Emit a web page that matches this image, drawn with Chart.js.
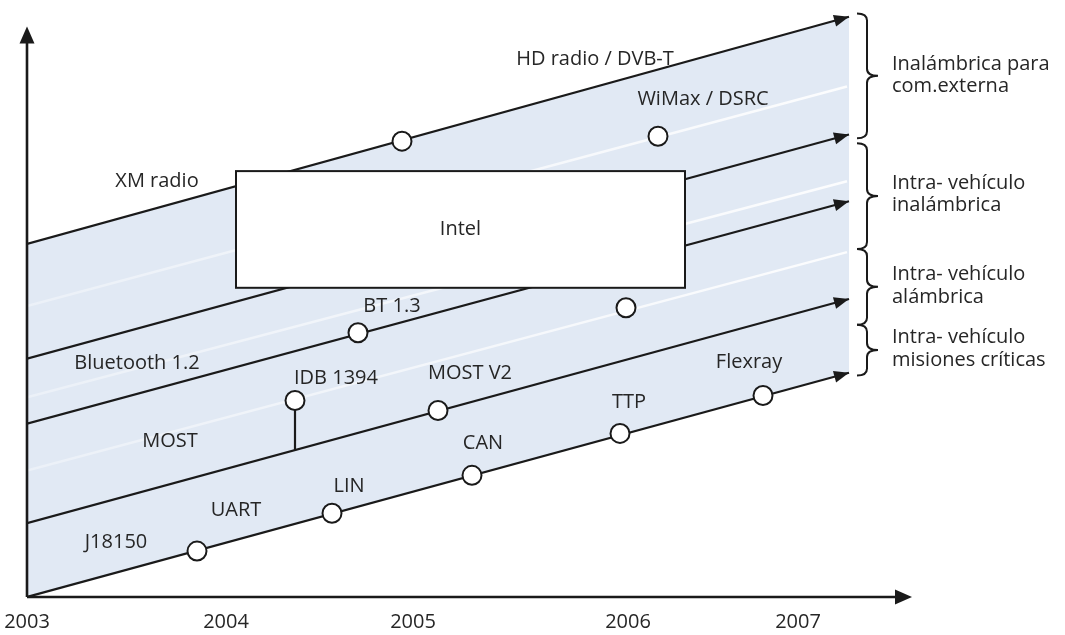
<!DOCTYPE html>
<html><head><meta charset="utf-8">
<script src="https://cdn.jsdelivr.net/npm/chart.js@4.4.0/dist/chart.umd.min.js"></script>
<style>html,body{margin:0;padding:0;background:#fff}</style>
</head><body>
<canvas id="c" width="1065" height="635"></canvas>
<script>
// ---- data (x in years, y in relative level 0-100) ----
const tickPositions = [2003, 2003.995, 2004.93, 2006.005, 2006.855];
const tickLabels = ['2003', '2004', '2005', '2006', '2007'];

const lineX = [2003, 2007.11];
const lineTop = [60.3, 99.1];        // HD radio / XM radio
const lineBluetooth = [40.7, 79.0];  // Bluetooth 1.2
const lineBT13 = [29.6, 67.6];       // BT 1.3
const lineMOST = [12.6, 50.9];       // MOST
const lineBase = [0, 38.3];          // J18150 ... Flexray

const guideX = [2003, 2007.1];
const guide1 = [49.7, 87.2];
const guide2 = [34.1, 71.0];
const guide3 = [21.6, 58.9];

const markerX = [2004.875, 2006.155, 2005.995, 2004.655, 2004.34, 2005.055, 2006.68, 2005.965, 2005.225, 2004.525, 2003.85];
const markerY = [77.85, 78.7, 49.4, 45.14, 33.56, 31.86, 34.41, 27.94, 20.78, 14.31, 7.84];

const stemX = [2004.34, 2004.34];
const stemY = [33.56, 25.04];

const labelText = ['XM radio', 'HD radio / DVB-T', 'WiMax / DSRC', 'BT 1.3', 'Bluetooth 1.2', 'IDB 1394', 'MOST V2', 'MOST', 'Flexray', 'TTP', 'CAN', 'LIN', 'UART', 'J18150'];
const labelX = [2003.65, 2005.84, 2006.38, 2004.825, 2003.55, 2004.545, 2005.215, 2003.715, 2006.61, 2006.01, 2005.28, 2004.61, 2004.045, 2003.445];
const labelY = [71.04, 91.82, 85.01, 49.57, 39.86, 37.31, 38.16, 26.58, 40.03, 33.22, 26.24, 18.91, 14.82, 9.37];

const boxText = 'Intel';
const boxX = [2004.045, 2006.29];
const boxY = [52.81, 72.74];

const groupLines = [['Inalámbrica para', 'com.externa'], ['Intra- vehículo', 'inalámbrica'], ['Intra- vehículo', 'alámbrica'], ['Intra- vehículo', 'misiones críticas']];
const groupTop = [99.66, 77.51, 59.45, 46.51];
const groupBottom = [78.36, 59.45, 46.51, 37.82];
const groupTextY = [[90.97, 87.22], [70.70, 66.95], [55.20, 51.11], [44.29, 40.37]];

const xMin = 2003, xMax = 2007.425, yMin = 0, yMax = 100;
const yAxisTop = 97.44;

// ---- styles ----
const FONT = '20px "Open Sans", "Noto Sans", sans-serif';
const TEXT = '#262626';
const INK = '#1a1a1a';
const BAND = '#e1e9f4';

const pts = (xs, ys) => xs.map((x, i) => ({ x, y: ys[i] }));
const blackLine = (data, extra) => Object.assign({ data, borderColor: INK, borderWidth: 2.2, pointRadius: 0, fill: false, tension: 0 }, extra || {});
const guideColor = (c) => {
  const a = c.chart.chartArea;
  if (!a) return 'rgba(255,255,255,0.7)';
  const g = c.chart.ctx.createLinearGradient(a.left, 0, a.right, 0);
  g.addColorStop(0, 'rgba(255,255,255,0.35)');
  g.addColorStop(1, 'rgba(255,255,255,0.95)');
  return g;
};
const whiteLine = (data) => ({ data, borderColor: guideColor, borderWidth: 2.5, pointRadius: 0, fill: false });

const decor = {
  id: 'decor',
  beforeDatasetDraw(chart, args) {
    if (args.index !== 0) return;
    const { ctx, scales: { x, y } } = chart;
    const l = x.getPixelForValue(boxX[0]), r = x.getPixelForValue(boxX[1]);
    const t = y.getPixelForValue(boxY[1]), b = y.getPixelForValue(boxY[0]);
    ctx.save();
    ctx.fillStyle = '#ffffff';
    ctx.fillRect(l, t, r - l, b - t);
    ctx.strokeStyle = INK; ctx.lineWidth = 2;
    ctx.strokeRect(l, t, r - l, b - t);
    ctx.fillStyle = TEXT; ctx.font = FONT; ctx.textAlign = 'center'; ctx.textBaseline = 'middle';
    ctx.fillText(boxText, (l + r) / 2, (t + b) / 2);
    ctx.restore();
  },
  afterDatasetsDraw(chart) {
    const { ctx, scales: { x, y } } = chart;
    const arrow = (x1, y1, x2, y2, len, half) => {
      const a = Math.atan2(y2 - y1, x2 - x1);
      ctx.beginPath();
      ctx.moveTo(x2, y2);
      ctx.lineTo(x2 - len * Math.cos(a) + half * Math.sin(a), y2 - len * Math.sin(a) - half * Math.cos(a));
      ctx.lineTo(x2 - len * Math.cos(a) - half * Math.sin(a), y2 - len * Math.sin(a) + half * Math.cos(a));
      ctx.closePath(); ctx.fill();
    };
    ctx.save();
    ctx.fillStyle = INK; ctx.strokeStyle = INK;
    // axes
    const ox = x.getPixelForValue(xMin), oy = y.getPixelForValue(yMin);
    const ty = y.getPixelForValue(yAxisTop), rx = x.getPixelForValue(xMax);
    ctx.lineWidth = 2.6;
    ctx.beginPath(); ctx.moveTo(ox, oy); ctx.lineTo(ox, ty + 8); ctx.stroke();
    ctx.beginPath(); ctx.moveTo(ox, oy); ctx.lineTo(rx - 8, oy); ctx.stroke();
    arrow(ox, oy, ox, ty, 17, 7.5);
    arrow(ox, oy, rx, oy, 17, 7.5);
    // arrowheads on the lines
    [2, 3, 4, 5, 6].forEach(i => {
      const p = chart.getDatasetMeta(i).data;
      const a = p[p.length - 2], b = p[p.length - 1];
      arrow(a.x, a.y, b.x, b.y, 15, 6);
    });
    // labels
    ctx.fillStyle = TEXT; ctx.font = FONT; ctx.textAlign = 'center'; ctx.textBaseline = 'middle';
    labelText.forEach((s, i) => ctx.fillText(s, x.getPixelForValue(labelX[i]), y.getPixelForValue(labelY[i])));
    // braces
    const x0 = x.getPixelForValue(2007.15), x1 = x.getPixelForValue(2007.2), x2 = x.getPixelForValue(2007.255);
    const tx = x.getPixelForValue(2007.325);
    ctx.strokeStyle = INK; ctx.lineWidth = 2;
    groupLines.forEach((lines, i) => {
      const a = y.getPixelForValue(groupTop[i]), b = y.getPixelForValue(groupBottom[i]);
      const m = (a + b) / 2, r = 7;
      ctx.beginPath();
      ctx.moveTo(x0, a);
      ctx.quadraticCurveTo(x1, a, x1, a + r);
      ctx.lineTo(x1, m - r);
      ctx.quadraticCurveTo(x1, m, x2, m);
      ctx.quadraticCurveTo(x1, m, x1, m + r);
      ctx.lineTo(x1, b - r);
      ctx.quadraticCurveTo(x1, b, x0, b);
      ctx.stroke();
      ctx.textAlign = 'left';
      lines.forEach((s, j) => ctx.fillText(s, tx, y.getPixelForValue(groupTextY[i][j])));
    });
    ctx.restore();
  }
};

new Chart(document.getElementById('c'), {
  type: 'line',
  data: {
    datasets: [
      { data: pts(markerX, markerY), showLine: false, pointRadius: 9.5, pointHoverRadius: 9.5, pointBackgroundColor: '#ffffff', pointBorderColor: INK, pointBorderWidth: 2 },
      blackLine(pts(stemX, stemY)),
      blackLine(pts(lineX, lineTop), { fill: 6, backgroundColor: BAND }),
      blackLine(pts(lineX, lineBluetooth)),
      blackLine(pts(lineX, lineBT13)),
      blackLine(pts(lineX, lineMOST)),
      blackLine(pts(lineX, lineBase)),
      whiteLine(pts(guideX, guide1)),
      whiteLine(pts(guideX, guide2)),
      whiteLine(pts(guideX, guide3))
    ]
  },
  options: {
    responsive: false,
    animation: false,
    events: [],
    layout: { padding: { left: 27, right: 153, top: 10, bottom: 0 } },
    plugins: { legend: { display: false }, tooltip: { enabled: false }, filler: { drawTime: 'beforeDatasetsDraw' } },
    scales: {
      x: {
        type: 'linear', min: xMin, max: xMax,
        grid: { display: false, drawTicks: false },
        border: { display: false },
        afterBuildTicks: s => { s.ticks = tickPositions.map(v => ({ value: v })); },
        afterFit: s => { s.paddingLeft = 0; s.paddingRight = 0; s.height = 38; },
        ticks: { autoSkip: false, maxRotation: 0, padding: 13, color: TEXT, font: { family: '"Open Sans", "Noto Sans", sans-serif', size: 20 }, callback: (v, i) => tickLabels[i] }
      },
      y: { type: 'linear', min: yMin, max: yMax, display: false }
    }
  },
  plugins: [decor]
});
</script>
</body></html>
